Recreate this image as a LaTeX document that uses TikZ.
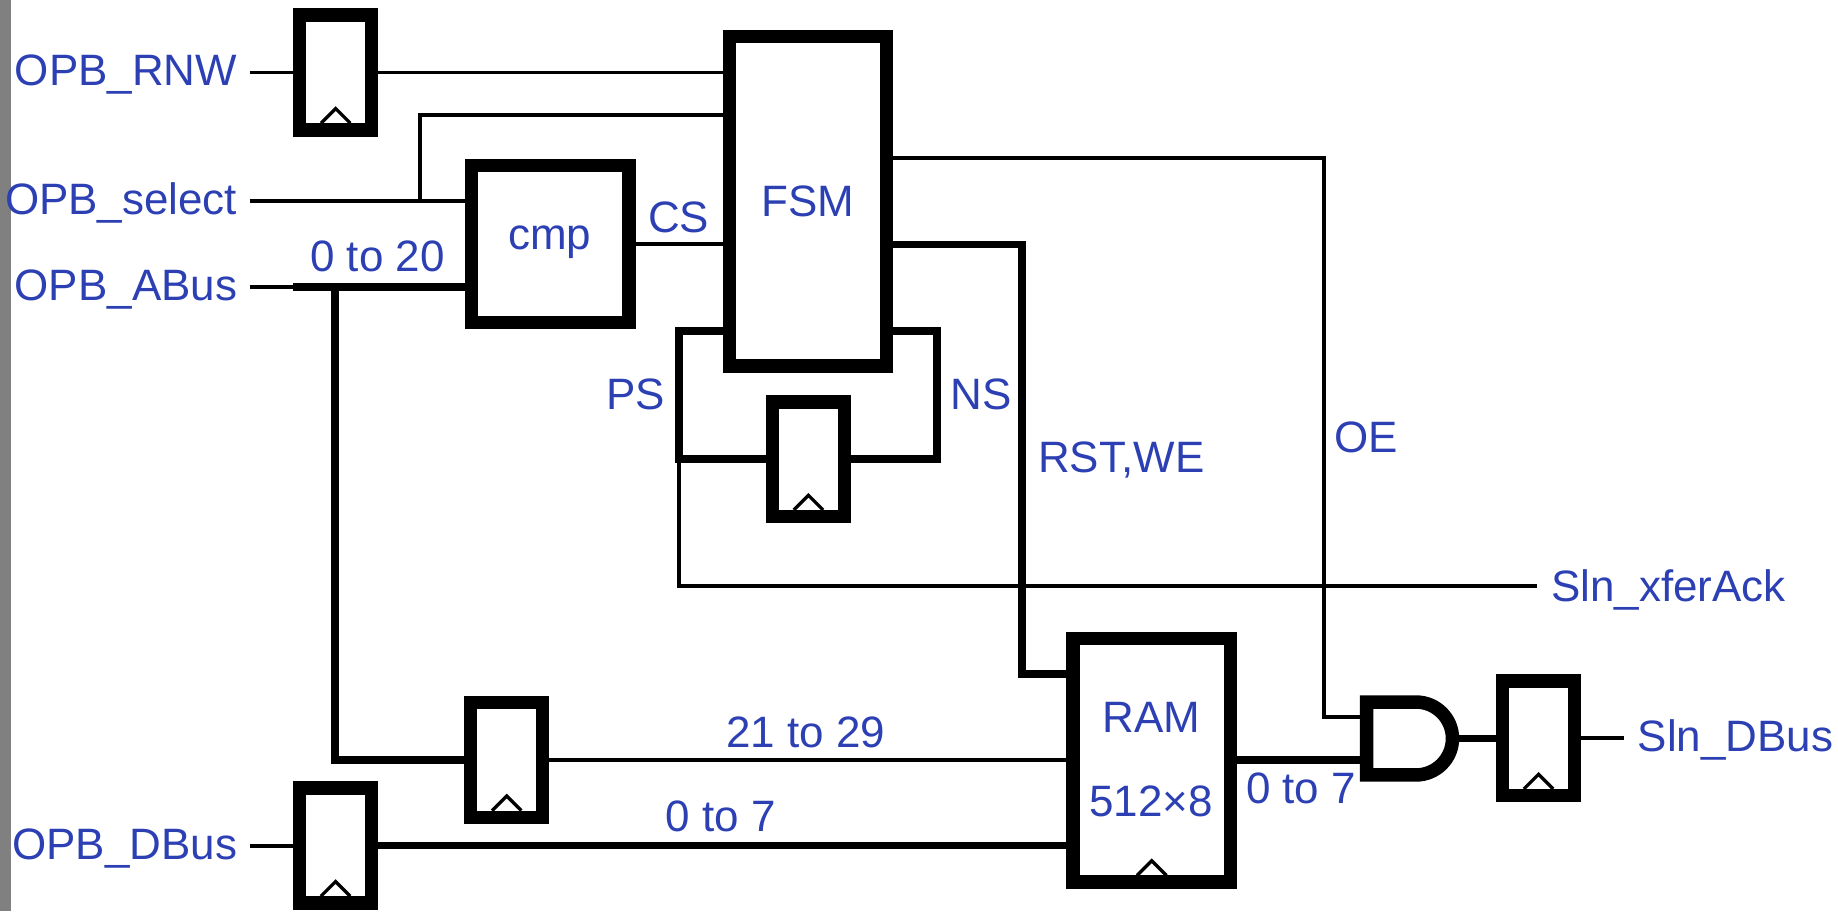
\documentclass[tikz,border=0pt]{standalone}
\usepackage{fontspec}
\setmainfont{Liberation Sans}
\usetikzlibrary{calc}
\definecolor{lbl}{RGB}{44,64,180}
\definecolor{barg}{RGB}{128,128,128}
\tikzset{
  box/.style={draw=black, line width=11.5pt, fill=white, inner sep=0pt},
  ffbox/.style={box, minimum width=61.5pt, minimum height=98pt},
  clk/.style={draw=black, line width=2.8pt},
  wire/.style={draw=black, line width=3.4pt},
  bus/.style={draw=black, line width=6.5pt},
  lab/.style={text=lbl, inner sep=0pt, font=\fontsize{37.5}{40}\selectfont},
}
\newcommand\clockon[1]{\draw[clk] ($(#1.south)+(-12.5,-11.5)$) -- ++(12.5,-12.5) -- ++(12.5,12.5);}
\begin{document}
\begin{tikzpicture}[x=1pt,y=-1pt]
\useasboundingbox (0,0) rectangle (1568,777.2);
\fill[barg] (0,0) rectangle (9,777.2);

% blocks
\node[ffbox] (ff1) at (286.35,61.85) {};
\node[ffbox] (ffd) at (286.25,721.3) {};
\node[ffbox] (ff3) at (432.25,648.3) {};
\node[ffbox] (ffs) at (689.7,391.8) {};
\node[ffbox] (ffo) at (1312.5,629.8) {};
\node[box, minimum width=134.1pt, minimum height=280.9pt] (fsm) at (689.2,171.8) {};
\node[box, minimum width=134.5pt, minimum height=134pt] (cmp) at (469.5,208.25) {};
\node[box, minimum width=134.5pt, minimum height=208pt] (ram) at (982.5,648.55) {};

% AND gate
\draw[box] (1208,598.9) -- (1165.8,598.9) -- (1165.8,661.1) -- (1208,661.1)
  arc[start angle=-90,end angle=90,radius=31.1pt] -- cycle;
\coordinate (gin1) at (1160,611.7);
\coordinate (gin2) at (1160,648.4);
\coordinate (gout) at (1244.8,629.8);

% clocks
\clockon{ff1}
\clockon{ffd}
\clockon{ff3}
\clockon{ffs}
\clockon{ffo}
\clockon{ram}

% labels
\node[lab, anchor=base east] (lrnw) at (202.5,73) {OPB\_RNW};
\node[lab, anchor=base east] (lsel) at (202.5,182.7) {OPB\_select};
\node[lab, anchor=base east] (labus) at (202.5,256.3) {OPB\_ABus};
\node[lab, anchor=base east] (ldbus) at (202.5,733) {OPB\_DBus};
\node[lab, anchor=base] (t020) at (322,231.5) {0 to 20};
\node[lab, anchor=base] (tcs) at (579,198) {CS};
\node[lab, anchor=base] (tfsm) at (689,184.6) {FSM};
\node[lab, anchor=base] (tcmp) at (469,213) {cmp};
\node[lab, anchor=base] (tps) at (542.5,349.3) {PS};
\node[lab, anchor=base] (tns) at (837,349.3) {NS};
\node[lab, anchor=base west] (trst) at (885.5,403.3) {RST,WE};
\node[lab, anchor=base west] (toe) at (1138,386) {OE};
\node[lab, anchor=base west] (lack) at (1323,513) {Sln\_xferAck};
\node[lab, anchor=base] (tram) at (982,624.8) {RAM};
\node[lab, anchor=base] (tsize) at (982,696.4) {512×8};
\node[lab, anchor=base] (t2129) at (687.5,638) {21 to 29};
\node[lab, anchor=base] (t07a) at (615,709) {0 to 7};
\node[lab, anchor=base] (t07b) at (1110,685.6) {0 to 7};
\node[lab, anchor=base west] (lsdbus) at (1397,641) {Sln\_DBus};

% port coordinates
\coordinate (srnw) at (213,61.85);
\coordinate (ssel) at (213,171.5);
\coordinate (jsel) at (358.5,171.5);
\coordinate (sabus) at (213,245);
\coordinate (babus) at (250,245);
\coordinate (jab) at (286,245);
\coordinate (sdbus) at (213,721.3);
\coordinate (jps) at (579,391.8);
\coordinate (cps) at (579,282.4);
\coordinate (cns) at (799.4,282.4);
\coordinate (eack) at (1311.5,500);
\coordinate (coe) at (1129.7,611.7);
\coordinate (crst) at (872,575);
\coordinate (eout) at (1385.5,629.8);

% wires
\draw[wire] (srnw) -- (ff1.west);
\draw[wire] (ff1.east) -- (ff1.east -| fsm.west);
\draw[wire] (ssel) -- (ssel -| cmp.west);
\draw[wire] (jsel) |- (fsm.west |- 0,98);
\draw[wire] (sabus) -- (babus);
\draw[bus] (babus) -- (babus -| cmp.west);
\draw[bus] (jab) |- (ff3.west);
\draw[wire] (cmp.east) -- (cmp.east -| fsm.west);
\draw[bus] (fsm.west |- cps) -- (cps) -- (jps) -- (ffs.west);
\draw[wire] (jps) |- (eack);
\draw[bus] (ffs.east) -| (cns) -- (cns -| fsm.east);
\draw[wire] (fsm.east |- 0,135.2) -| (coe) -- (gin1);
\draw[bus] (fsm.east |- 0,208.5) -| (crst) -- (crst -| ram.west);
\draw[wire] (ff3.east) -- (ff3.east -| ram.west);
\draw[wire] (sdbus) -- (ffd.west);
\draw[bus] (ffd.east) -- (ffd.east -| ram.west);
\draw[bus] (ram.east |- gin2) -- (gin2);
\draw[wire, line width=6pt] (gout) -- (ffo.west);
\draw[wire] (ffo.east) -- (eout);
\end{tikzpicture}
\end{document}
